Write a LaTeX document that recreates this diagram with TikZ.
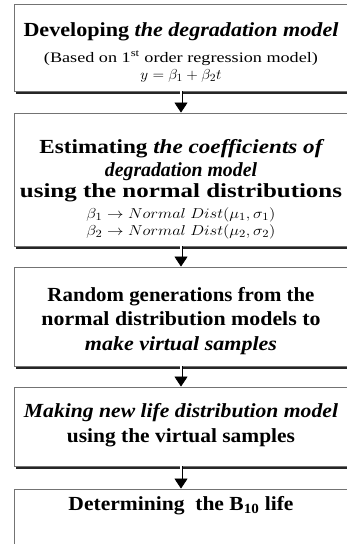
\documentclass[tikz,border=0pt]{standalone}
\usepackage{fontspec}
\setmainfont{Liberation Serif}
\usetikzlibrary{arrows.meta,shadows}

\tikzset{
  stepbox/.style={draw=black!55, line width=0.8pt, fill=white,
    minimum width=334pt, inner sep=0pt,
    drop shadow={shadow xshift=2pt, shadow yshift=-2.6pt, opacity=1, fill=black!85}},
  txt/.style={anchor=base, inner sep=0pt, font=\fontsize{20}{24}\selectfont},
  flow/.style={double=white, double distance=1.6pt, line width=0.7pt,
    -{Triangle[length=10pt,width=13pt]}},
}
% one line of text, stretched to a given width
\newcommand{\fitline}[2]{\resizebox{#1}{\height}{#2}}
\newcommand{\sline}{\fontsize{14.5}{17}\selectfont}
\newcommand{\mline}{\fontsize{15.5}{18}\selectfont}

\begin{document}
\begin{tikzpicture}[x=1pt, y=-1pt]
  \useasboundingbox (0,0) rectangle (346,544);

  % boxes
  \node[stepbox, minimum height=87pt] (dev) at (181,47.5) {};
  \node[stepbox, minimum height=133pt] (est) at (181,179.5) {};
  \node[stepbox, minimum height=99pt] (gen) at (181,316.5) {};
  \node[stepbox, minimum height=79pt] (life) at (181,426.5) {};
  \node[stepbox, minimum height=55pt] (b10) at (181,516.5) {};

  % texts
  \node[txt] (dev-a) at (181,36) {\fitline{315pt}{\bfseries Developing \itshape the degradation model}};
  \node[txt] (dev-b) at (181,62) {\fitline{274pt}{\sline (Based on 1\textsuperscript{st} order regression model)}};
  \node[txt] (dev-c) at (181,79) {\fitline{81pt}{\mline $y=\beta_1+\beta_2t$}};

  \node[txt] (est-a) at (181,153) {\fitline{283pt}{\bfseries Estimating \itshape the coefficients of}};
  \node[txt] (est-b) at (181,176) {\fitline{152pt}{\bfseries\itshape degradation model}};
  \node[txt] (est-c) at (181,197) {\fitline{322pt}{\bfseries using the normal distributions}};
  \node[txt] (est-d) at (181,218) {\fitline{189pt}{\mline $\beta_1\rightarrow Normal\ Dist(\mu_1,\sigma_1)$}};
  \node[txt] (est-e) at (181,235) {\fitline{189pt}{\mline $\beta_2\rightarrow Normal\ Dist(\mu_2,\sigma_2)$}};

  \node[txt] (gen-a) at (181,301) {\fitline{267pt}{\bfseries Random generations from the}};
  \node[txt] (gen-b) at (181,325) {\fitline{279pt}{\bfseries normal distribution models to}};
  \node[txt] (gen-c) at (181,350) {\fitline{192pt}{\bfseries\itshape make virtual samples}};

  \node[txt] (life-a) at (181,417) {\fitline{314pt}{\bfseries\itshape Making new life distribution model}};
  \node[txt] (life-b) at (181,442) {\fitline{228pt}{\bfseries using the virtual samples}};

  \node[txt] (b10-a) at (181,510) {\fitline{225pt}{\bfseries Determining\ \ the B\textsubscript{10} life}};

  % arrows
  \draw[flow] (dev.south) -- (est.north);
  \draw[flow] (est.south) -- (gen.north);
  \draw[flow] (gen.south) -- (life.north);
  \draw[flow] (life.south) -- (b10.north);
\end{tikzpicture}
\end{document}
